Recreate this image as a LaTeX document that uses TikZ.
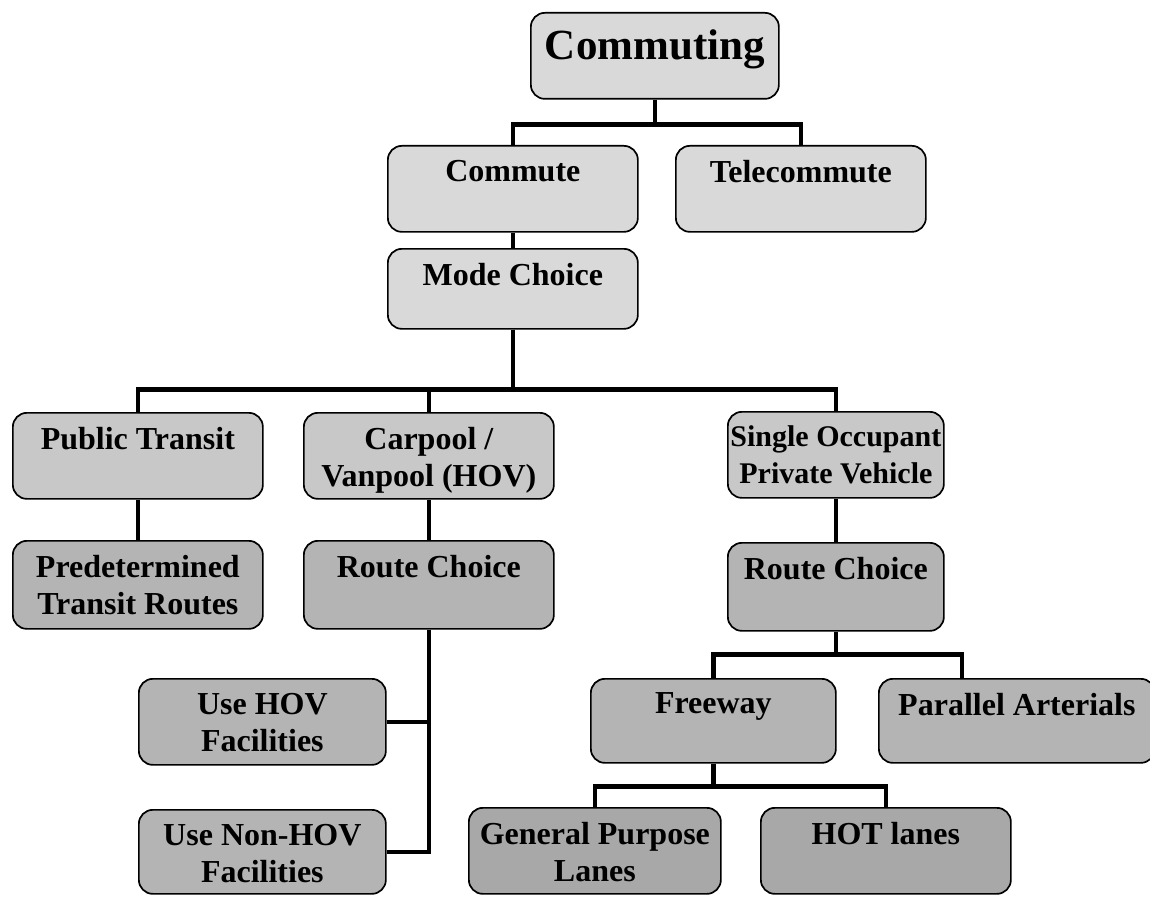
\documentclass[tikz,border=0pt]{standalone}
\usepackage{fontspec}
\setmainfont{Liberation Serif}
\usepackage{xcolor}
\usetikzlibrary{positioning}

\definecolor{grayA}{HTML}{D9D9D9}
\definecolor{grayB}{HTML}{C8C8C8}
\definecolor{grayC}{HTML}{B4B4B4}
\definecolor{grayD}{HTML}{A8A8A8}

\def\boxwd{250pt}
\def\boxht{86pt}
\def\boxskip{14pt}
\tikzset{bw/.code={\def\boxwd{#1}}, bh/.code={\def\boxht{#1}}, bskip/.code={\def\boxskip{#1}}}

\tikzstyle{box} = [draw, line width=1.7pt, rounded corners=14pt, inner sep=0pt,
   anchor=north west, font=\bfseries\fontsize{32}{37}\selectfont,
   execute at begin node={\begin{minipage}[t][\boxht][t]{\boxwd}\centering\vspace*{\boxskip}},
   execute at end node={\end{minipage}}]
\tikzstyle{link} = [line width=4.6pt]

\begin{document}
\begin{tikzpicture}[x=1pt, y=-1pt]
  \useasboundingbox (0,0) rectangle (1150,896);

  % levels 1-3
  \node[box, fill=grayA, bw=248pt, font=\bfseries\fontsize{43}{44}\selectfont, bskip=17pt] (commuting) at (530,12) {Commuting};
  \node[box, fill=grayA] (commute) at (387,145) {Commute};
  \node[box, fill=grayA] (telecommute) at (675,145) {Telecommute};
  \node[box, fill=grayA, bh=80pt] (mode) at (387,248) {Mode Choice};

  % modes
  \node[box, fill=grayB] (transit) at (12,412) {Public Transit};
  \node[box, fill=grayB] (carpool) at (303,412) {Carpool /\\Vanpool (HOV)};
  \node[box, fill=grayB, bw=216pt, font=\bfseries\fontsize{30}{37}\selectfont] (sov) at (727,411) {Single Occupant\\Private Vehicle};

  % routes
  \node[box, fill=grayC, bh=88pt] (predet) at (12,540) {Predetermined\\Transit Routes};
  \node[box, fill=grayC, bh=88pt] (hovroute) at (303,540) {Route Choice};
  \node[box, fill=grayC, bw=216pt, bh=88pt] (sovroute) at (727,542) {Route Choice};
  \node[box, fill=grayC, bw=247pt, bh=86pt] (hov) at (138,678) {Use HOV\\Facilities};
  \node[box, fill=grayC, bw=247pt, bh=84pt] (nonhov) at (138,809) {Use Non-HOV\\Facilities};
  \node[box, fill=grayC, bw=245pt, bh=84pt] (freeway) at (590,678) {Freeway};
  \node[box, fill=grayC, bw=276pt, bh=84pt] (arterials) at (878,678) {Parallel Arterials};
  \node[box, fill=grayD, bw=252pt, bh=86pt] (gpl) at (468,807) {General Purpose\\Lanes};
  \node[box, fill=grayD, bh=86pt] (hot) at (760,807) {HOT lanes};

  % connectors
  \draw[link] (commuting.south) -- ++(0,25) -| (commute.north);
  \draw[link] (commuting.south) -- ++(0,25) -| (telecommute.north);
  \draw[link] (commute.south) -- (mode.north);
  \draw[link] (mode.south) -- ++(0,60) -| (transit.north);
  \draw[link] (mode.south) -- ++(0,60) -| (carpool.north);
  \draw[link] (mode.south) -- ++(0,60) -| (sov.north);
  \draw[link] (transit.south) -- (predet.north);
  \draw[link] (carpool.south) -- (hovroute.north);
  \draw[link] (sov.south) -- (sovroute.north);
  \draw[link] (hovroute.south) |- (nonhov.east);
  \draw[link] (hov.east) -- (hov.east -| hovroute.south);
  \draw[link] (sovroute.south) -- ++(0,23) -| (freeway.north);
  \draw[link] (sovroute.south) -- ++(0,23) -| ([xshift=84pt]arterials.north west);
  \draw[link] (freeway.south) -- ++(0,23) -| (gpl.north);
  \draw[link] (freeway.south) -- ++(0,23) -| (hot.north);
\end{tikzpicture}
\end{document}
